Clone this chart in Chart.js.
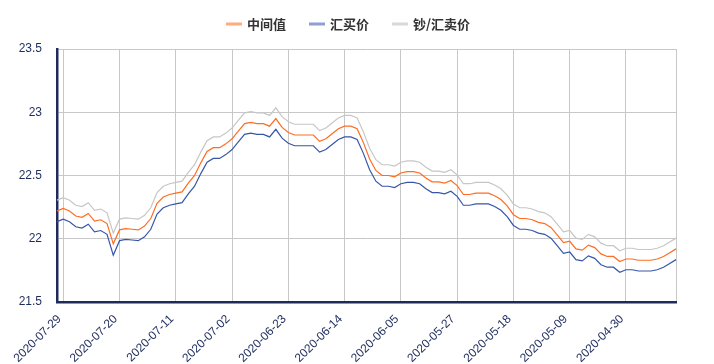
<!DOCTYPE html>
<html lang="zh">
<head>
    <meta charset="UTF-8">
    <script src="https://cdn.jsdelivr.net/npm/chart.js"></script>
    <title>汇率走势</title>
</head>
<style>
    body{
        margin: 0;
        background: #ffffff;
    }
    .chart-box{
        width: 714px;
        height: 364px;
    }
</style>
<body>

    <div class="chart-box">
        <canvas id="rateChart" width="714" height="364"></canvas>
    </div>

<script>

    // series names
    const seriesNames = ["中间值", "汇买价", "钞/汇卖价"];

    // one label per day, newest first (2020-07-30 back to 2020-04-22)
    const startDay = "2020-07-30";
    const dayCount = 100;
    const dates = [];
    for (let i = 0; i < dayCount; i++) {
        const d = new Date(startDay + "T00:00:00Z");
        d.setUTCDate(d.getUTCDate() - i);
        dates.push(d.toISOString().slice(0, 10));
    }

    // dates that carry a tick label
    const tickDates = ["2020-07-29", "2020-07-20", "2020-07-11", "2020-07-02", "2020-06-23",
        "2020-06-14", "2020-06-05", "2020-05-27", "2020-05-18", "2020-05-09", "2020-04-30"];

    const yTicks = [21.5, 22, 22.5, 23, 23.5];

    const midRate = [
        22.22, 22.24, 22.22, 22.18, 22.17, 22.20, 22.14, 22.15, 22.12, 21.96,
        22.07, 22.08, 22.075, 22.07, 22.10, 22.16, 22.28, 22.33, 22.35, 22.36,
        22.37, 22.44, 22.50, 22.60, 22.69, 22.72, 22.72, 22.75, 22.79, 22.85,
        22.91, 22.92, 22.91, 22.91, 22.89, 22.95, 22.88, 22.84, 22.82, 22.82,
        22.82, 22.82, 22.77, 22.79, 22.83, 22.87, 22.89, 22.89, 22.87, 22.76,
        22.63, 22.54, 22.50, 22.50, 22.49, 22.52, 22.53, 22.53, 22.52, 22.48,
        22.45, 22.45, 22.44, 22.46, 22.42, 22.35, 22.35, 22.36, 22.36, 22.36,
        22.34, 22.31, 22.26, 22.19, 22.16, 22.16, 22.15, 22.13, 22.12, 22.09,
        22.03, 21.97, 21.98, 21.92, 21.91, 21.95, 21.93, 21.88, 21.86, 21.86,
        21.82, 21.84, 21.84, 21.83, 21.83, 21.83, 21.84, 21.86, 21.89, 21.92
    ];

    const buyRate = [
        22.135, 22.155, 22.135, 22.095, 22.085, 22.115, 22.055, 22.065, 22.035, 21.870,
        21.985, 21.995, 21.990, 21.985, 22.015, 22.075, 22.195, 22.245, 22.265, 22.275,
        22.285, 22.355, 22.415, 22.515, 22.605, 22.635, 22.635, 22.665, 22.705, 22.765,
        22.825, 22.835, 22.825, 22.825, 22.805, 22.865, 22.795, 22.755, 22.735, 22.735,
        22.735, 22.735, 22.685, 22.705, 22.745, 22.785, 22.805, 22.805, 22.785, 22.675,
        22.545, 22.455, 22.415, 22.415, 22.405, 22.435, 22.445, 22.445, 22.435, 22.395,
        22.365, 22.365, 22.355, 22.375, 22.335, 22.265, 22.265, 22.275, 22.275, 22.275,
        22.255, 22.225, 22.175, 22.105, 22.075, 22.075, 22.065, 22.045, 22.035, 22.005,
        21.945, 21.885, 21.895, 21.835, 21.825, 21.865, 21.845, 21.795, 21.775, 21.775,
        21.735, 21.755, 21.755, 21.745, 21.745, 21.745, 21.755, 21.775, 21.805, 21.835
    ];

    const sellRate = [
        22.305, 22.325, 22.305, 22.265, 22.255, 22.285, 22.225, 22.235, 22.205, 22.045,
        22.155, 22.165, 22.160, 22.155, 22.185, 22.245, 22.365, 22.415, 22.435, 22.445,
        22.455, 22.525, 22.585, 22.685, 22.775, 22.805, 22.805, 22.835, 22.875, 22.935,
        22.995, 23.005, 22.995, 22.995, 22.975, 23.035, 22.965, 22.925, 22.905, 22.905,
        22.905, 22.905, 22.855, 22.875, 22.915, 22.955, 22.975, 22.975, 22.955, 22.845,
        22.715, 22.625, 22.585, 22.585, 22.575, 22.605, 22.615, 22.615, 22.605, 22.565,
        22.535, 22.535, 22.525, 22.545, 22.505, 22.435, 22.435, 22.445, 22.445, 22.445,
        22.425, 22.395, 22.345, 22.275, 22.245, 22.245, 22.235, 22.215, 22.205, 22.175,
        22.115, 22.055, 22.065, 22.005, 21.995, 22.035, 22.015, 21.965, 21.945, 21.945,
        21.905, 21.925, 21.925, 21.915, 21.915, 21.915, 21.925, 21.945, 21.975, 22.005
    ];

    const lineColors = ["#ff6c22", "#3656a8", "#c6c6c6"];
    const legendColors = ["#ffaa80", "#8e9fd2", "#d8d8d8"];
    const axisColor = "#1e2c5c";

    // simple legend drawn on the canvas
    const topLegend = {
        id: "topLegend",
        afterDraw(chart) {
            const c = chart.ctx;
            c.save();
            c.font = "bold 13px 'Noto Sans CJK SC'";
            c.textBaseline = "middle";
            let x = 226;
            const y = 24;
            chart.data.datasets.forEach((ds, i) => {
                c.fillStyle = legendColors[i];
                c.fillRect(x, y - 1.5, 16, 3);
                c.fillStyle = "#333333";
                c.fillText(ds.label, x + 21, y);
                x += 21 + c.measureText(ds.label).width + 23;
            });
            c.restore();
        }
    };

    const ctx = document.getElementById("rateChart").getContext("2d");
    new Chart(ctx, {
        type: "line",
        data: {
            labels: dates,
            datasets: [
                { label: seriesNames[0], data: midRate, borderColor: lineColors[0] },
                { label: seriesNames[1], data: buyRate, borderColor: lineColors[1] },
                { label: seriesNames[2], data: sellRate, borderColor: lineColors[2] },
            ],
        },
        options: {
            responsive: false,
            animation: false,
            layout: {
                padding: { top: 49, right: 38, left: 0, bottom: 0 },
            },
            elements: {
                point: { radius: 0 },
                line: { borderWidth: 1.2, tension: 0 },
            },
            plugins: {
                legend: { display: false },
                tooltip: { enabled: false },
            },
            scales: {
                x: {
                    type: "category",
                    offset: false,
                    afterFit(scale) { scale.height = 62; },
                    border: { color: axisColor, width: 2.5 },
                    grid: { color: "#c8c8c8", lineWidth: 1, drawTicks: false },
                    ticks: {
                        autoSkip: false,
                        minRotation: 45,
                        maxRotation: 45,
                        padding: 10,
                        labelOffset: -4,
                        color: axisColor,
                        font: { family: "'Liberation Sans'", size: 12 },
                        callback(value, index) {
                            const d = dates[index];
                            if (tickDates.includes(d)) return d;
                            if (index === dates.length - 1) return "";
                            return null;
                        },
                    },
                },
                y: {
                    min: 21.5,
                    max: 23.5,
                    afterFit(scale) { scale.width = 57; },
                    afterBuildTicks(scale) {
                        scale.ticks = yTicks.map(v => ({ value: v }));
                    },
                    border: { color: axisColor, width: 2.5 },
                    grid: { color: "#c8c8c8", lineWidth: 1, drawTicks: false },
                    ticks: {
                        padding: 15,
                        color: axisColor,
                        font: { family: "'Liberation Sans'", size: 12 },
                        callback: value => String(value),
                    },
                },
            },
        },
        plugins: [topLegend],
    });
</script>

</body>
</html>
